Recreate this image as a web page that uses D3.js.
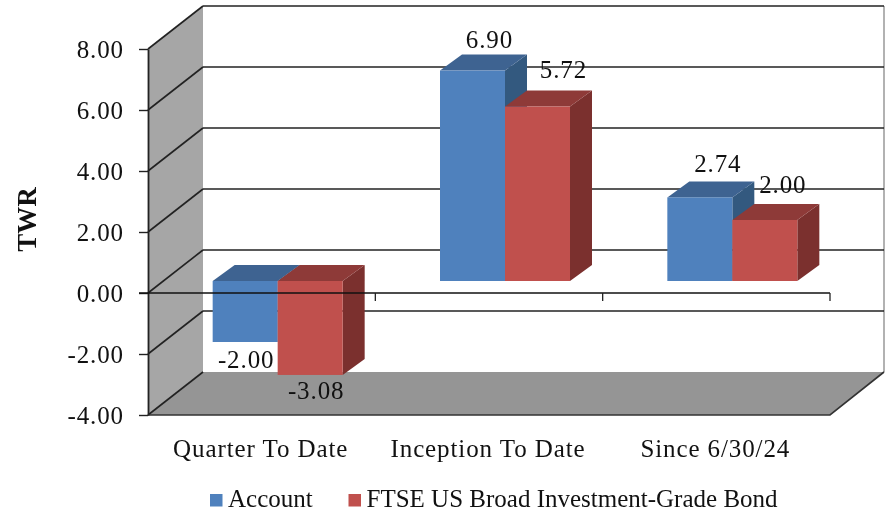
<!DOCTYPE html>
<html lang="en">

<head>
    <meta charset="UTF-8">
    <script src="https://d3js.org/d3.v7.min.js"></script>
    <title>TWR</title>
    <style>
        html, body { margin: 0; background: #fff; }
        svg { display: block; filter: blur(0.4px); }
        text { font-family: "Liberation Serif", serif; fill: #111; font-size: 25px; letter-spacing: 0.9px; }
    </style>
</head>

<body>
    <div id="chart"></div>
    <script>
        // Data
        const categories = ["Quarter To Date", "Inception To Date", "Since 6/30/24"];
        const seriesNames = ["Account", "FTSE US Broad Investment-Grade Bond"];
        const accountValues = [-2.00, 6.90, 2.74];
        const benchmarkValues = [-3.08, 5.72, 2.00];
        const yTicks = [-4, -2, 0, 2, 4, 6, 8];

        const seriesValues = [accountValues, benchmarkValues];

        const width = 891;
        const height = 512;

        // Colours per series: front, top, side
        const colors = [
            { front: "#4f81bd", top: "#3e6391", side: "#33597f" },
            { front: "#c0504d", top: "#8e3a38", side: "#7b302e" }
        ];

        // Oblique projection offsets
        const wallDx = 55, wallDy = -43;
        const barDx = 16, barDy = -12;
        const depthDx = 22, depthDy = -16;

        // Hand placed data label nudges, [series][category] -> [dx, dy]
        const labelNudge = [
            [[1, 26], [17, -23], [18, -25]],
            [[6, 24], [26, -29], [18, -27]]
        ];

        const formatValue = d3.formatLocale({ decimal: ".", thousands: ",", grouping: [3], currency: ["$", ""], minus: "-" }).format(".2f");

        const svg = d3.select("#chart")
            .append("svg")
            .attr("width", width)
            .attr("height", height);

        // Scales
        const y = d3.scaleLinear().domain([-4, 8]).range([415, 49]);
        const x = d3.scaleBand().domain(categories).range([148, 830]);
        const barWidth = 65;
        const xSeries = d3.scaleBand()
            .domain([0, 1])
            .range([-barWidth, barWidth]);

        const line = "#222";
        const x0 = x.range()[0], x1 = x.range()[1];
        const yBottom = y(-4), yTop = y(8), yZero = y(0);

        // Left wall
        svg.append("path")
            .attr("d", `M${x0},${yTop}L${x0 + wallDx},${yTop + wallDy}L${x0 + wallDx},${yBottom + wallDy}L${x0},${yBottom}Z`)
            .attr("fill", "#a6a6a6");

        // Floor
        svg.append("path")
            .attr("d", `M${x0},${yBottom}L${x0 + wallDx},${yBottom + wallDy}L${x1 + wallDx - 1},${yBottom + wallDy}L${x1},${yBottom}Z`)
            .attr("fill", "#959595");

        // Right edge of the back wall
        svg.append("line")
            .attr("x1", x1 + wallDx - 1).attr("x2", x1 + wallDx - 1)
            .attr("y1", yTop + wallDy).attr("y2", yBottom + wallDy)
            .attr("stroke", "#999")
            .attr("stroke-width", 1.5);

        // Gridlines, back wall and left wall
        const grid = svg.append("g");
        grid.selectAll(".back")
            .data(yTicks.filter(d => d > -4))
            .join("line")
            .attr("class", "back")
            .attr("x1", x0 + wallDx).attr("x2", x1 + wallDx - 1)
            .attr("y1", d => y(d) + wallDy).attr("y2", d => y(d) + wallDy)
            .attr("stroke", line)
            .attr("stroke-width", 1.6);
        grid.selectAll(".side")
            .data(yTicks)
            .join("line")
            .attr("class", "side")
            .attr("x1", x0).attr("x2", x0 + wallDx)
            .attr("y1", d => y(d)).attr("y2", d => y(d) + wallDy)
            .attr("stroke", line)
            .attr("stroke-width", 1.6);

        // Floor front edges
        svg.append("path")
            .attr("d", `M${x0},${yBottom}L${x1},${yBottom}L${x1 + wallDx - 1},${yBottom + wallDy}`)
            .attr("fill", "none")
            .attr("stroke", "#333")
            .attr("stroke-width", 1.6);

        // Bars: every bar gets side, top and front faces
        const bars = categories.flatMap((c, i) => seriesValues.map((vals, s) => ({ c, i, s, v: vals[i] })));

        const barGroups = svg.selectAll(".bar")
            .data(bars)
            .join("g")
            .attr("class", "bar");

        const left = d => x(d.c) + x.bandwidth() / 2 + xSeries(d.s) + barDx;
        const base = yZero + barDy;
        const valueY = d => y(d.v) + barDy;
        const upper = d => Math.min(base, valueY(d));
        const lower = d => Math.max(base, valueY(d));

        barGroups.append("path")
            .attr("fill", d => colors[d.s].side)
            .attr("d", d => {
                const r = left(d) + barWidth;
                return `M${r},${upper(d)}L${r + depthDx},${upper(d) + depthDy}L${r + depthDx},${lower(d) + depthDy}L${r},${lower(d)}Z`;
            });
        barGroups.append("path")
            .attr("fill", d => colors[d.s].top)
            .attr("d", d => {
                const l = left(d), t = upper(d);
                return `M${l},${t}L${l + depthDx},${t + depthDy}L${l + barWidth + depthDx},${t + depthDy}L${l + barWidth},${t}Z`;
            });
        barGroups.append("rect")
            .attr("fill", d => colors[d.s].front)
            .attr("x", left)
            .attr("y", upper)
            .attr("width", barWidth)
            .attr("height", d => lower(d) - upper(d));

        // Y axis
        const yAxis = d3.axisLeft(y)
            .tickValues(yTicks)
            .tickFormat(formatValue)
            .tickSize(9)
            .tickPadding(15)
            .tickSizeOuter(0);
        const yG = svg.append("g")
            .attr("transform", `translate(${x0},0)`)
            .call(yAxis);
        yG.selectAll("line").attr("stroke", line).attr("stroke-width", 1.4);
        yG.select(".domain").attr("stroke", line).attr("stroke-width", 1.8);
        yG.selectAll("text")
            .attr("fill", "#111");
        yG.attr("font-family", null).attr("font-size", null);

        // Zero line with ticks at the category edges
        svg.append("line")
            .attr("x1", x0 - 9).attr("x2", x1)
            .attr("y1", yZero).attr("y2", yZero)
            .attr("stroke", "#111")
            .attr("stroke-width", 1.6);
        svg.selectAll(".cat-tick")
            .data(categories)
            .join("line")
            .attr("class", "cat-tick")
            .attr("x1", d => x(d) + x.bandwidth()).attr("x2", d => x(d) + x.bandwidth())
            .attr("y1", yZero).attr("y2", yZero + 8)
            .attr("stroke", "#222")
            .attr("stroke-width", 1.3);

        // Data labels
        svg.selectAll(".value")
            .data(bars)
            .join("text")
            .attr("class", "value")
            .attr("text-anchor", "middle")
            .attr("x", d => left(d) + barWidth / 2 + labelNudge[d.s][d.i][0])
            .attr("y", d => valueY(d) + labelNudge[d.s][d.i][1])
            .text(d => formatValue(d.v));

        // Category labels
        svg.selectAll(".cat")
            .data(categories)
            .join("text")
            .attr("class", "cat")
            .attr("text-anchor", "middle")
            .attr("x", d => x(d) + x.bandwidth() / 2 - 1)
            .attr("y", 457)
            .text(d => d);

        // Y title
        svg.append("text")
            .attr("transform", "translate(36,219.5) rotate(-90)")
            .attr("text-anchor", "middle")
            .attr("font-weight", "bold")
            .style("font-size", "27px")
            .style("letter-spacing", "0")
            .text("TWR");

        // Legend
        const legendX = [210, 348.5];
        const legend = svg.selectAll(".legend")
            .data(seriesNames)
            .join("g")
            .attr("class", "legend")
            .attr("transform", (d, i) => `translate(${legendX[i]},494)`);
        legend.append("rect")
            .attr("x", 0).attr("y", 0)
            .attr("width", 12.5).attr("height", 12.5)
            .attr("fill", (d, i) => colors[i].front);
        legend.append("text")
            .attr("x", 18)
            .attr("y", 13)
            .style("letter-spacing", "0")
            .text(d => d);
    </script>
</body>

</html>
